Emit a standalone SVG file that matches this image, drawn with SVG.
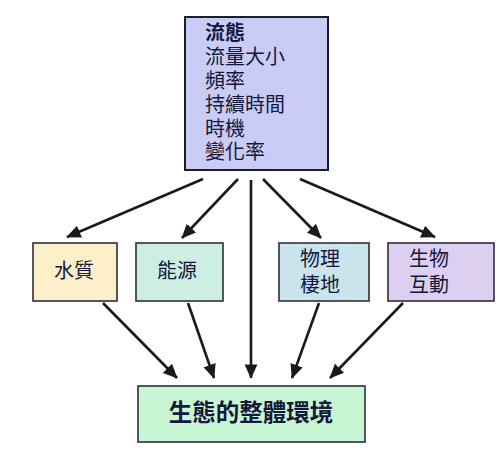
<svg xmlns="http://www.w3.org/2000/svg" width="503" height="451" viewBox="0 0 503 451">
<defs>
<style>
.box{stroke:#2e2e3a;stroke-width:1.6}
.t{font-family:"Noto Sans CJK TC","Noto Sans CJK SC",sans-serif;font-size:20px;fill:#14183a}
.c{text-anchor:middle}
.ln{stroke:#1a1a1a;stroke-width:2.6;fill:none}
</style>
<marker id="ah" viewBox="0 0 10 10" refX="9.5" refY="5" markerWidth="5.5" markerHeight="5.5" markerUnits="strokeWidth" orient="auto">
<path d="M0,0.5 L10,5 L0,9.5 Z" fill="#1a1a1a"/>
</marker>
</defs>
<rect width="503" height="451" fill="#ffffff"/>
<g id="connectors">
<line class="ln" x1="203" y1="179" x2="67" y2="237" marker-end="url(#ah)"/>
<line class="ln" x1="238" y1="179" x2="182" y2="238" marker-end="url(#ah)"/>
<line class="ln" x1="251" y1="180" x2="251" y2="378" marker-end="url(#ah)"/>
<line class="ln" x1="263" y1="179" x2="321" y2="238" marker-end="url(#ah)"/>
<line class="ln" x1="300" y1="179" x2="435" y2="237" marker-end="url(#ah)"/>
<line class="ln" x1="103" y1="303" x2="177" y2="378" marker-end="url(#ah)"/>
<line class="ln" x1="188" y1="303" x2="214" y2="378" marker-end="url(#ah)"/>
<line class="ln" x1="319" y1="303" x2="292" y2="378" marker-end="url(#ah)"/>
<line class="ln" x1="403" y1="303" x2="330" y2="378" marker-end="url(#ah)"/>
</g>
<g id="flow">
<rect class="box" x="185" y="17" width="143" height="153" fill="#c9cdf5" style="stroke:#1c1c2c;stroke-width:2"/>
<text class="t"><tspan x="205" y="40" font-weight="bold">流態</tspan><tspan x="205" y="64">流量大小</tspan><tspan x="205" y="88">頻率</tspan><tspan x="205" y="112">持續時間</tspan><tspan x="205" y="136">時機</tspan><tspan x="205" y="159">變化率</tspan></text>
</g>
<g id="water">
<rect class="box" x="33" y="243" width="84" height="58" fill="#fcefca"/>
<text class="t c" x="74" y="278">水質</text>
</g>
<g id="energy">
<rect class="box" x="136" y="243" width="87" height="58" fill="#cdeee2"/>
<text class="t c" x="177" y="278">能源</text>
</g>
<g id="habitat">
<rect class="box" x="279" y="243" width="90" height="58" fill="#cae3ec"/>
<text class="t c"><tspan x="320" y="266">物理</tspan><tspan x="320" y="292">棲地</tspan></text>
</g>
<g id="biotic">
<rect class="box" x="388" y="243" width="106" height="58" fill="#dccff0"/>
<text class="t c"><tspan x="429" y="266">生物</tspan><tspan x="429" y="292">互動</tspan></text>
</g>
<g id="ecosystem">
<rect class="box" x="138" y="386" width="227" height="56" fill="#c8f5d2"/>
<text class="t c" x="251" y="421" font-weight="bold" style="font-size:23.5px">生態的整體環境</text>
</g>
</svg>
